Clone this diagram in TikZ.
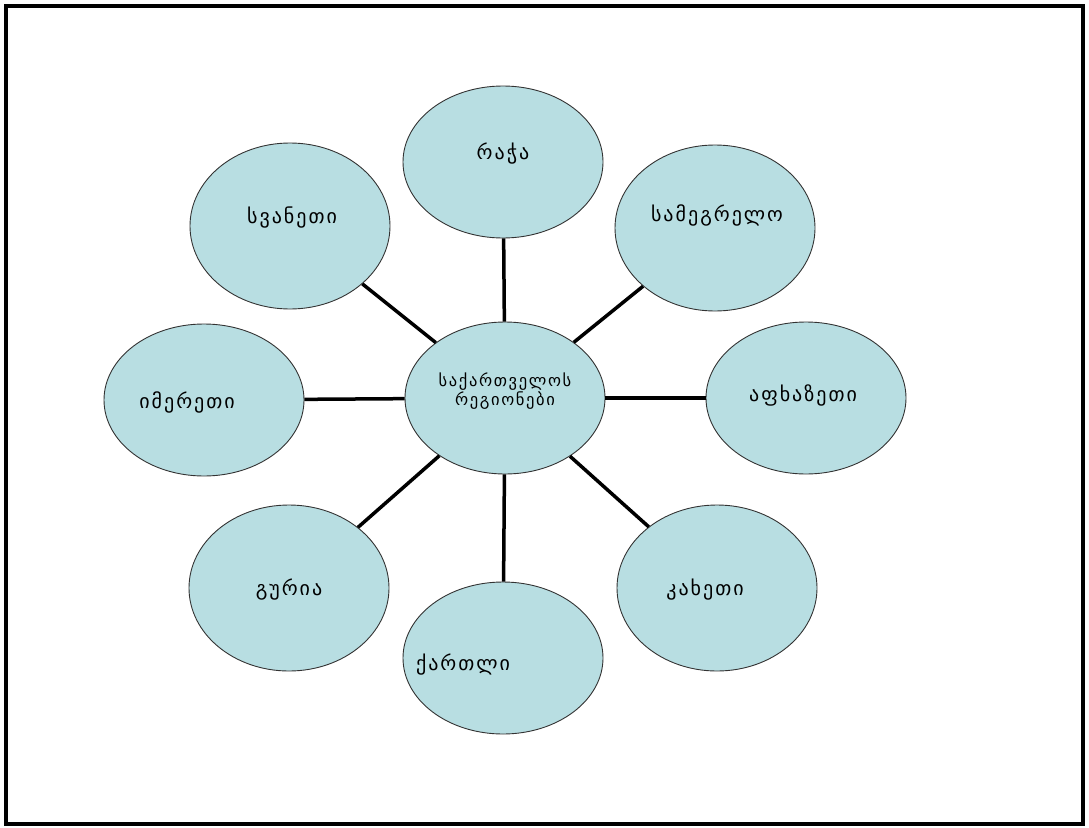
\documentclass[tikz,border=0pt]{standalone}
\usepackage{fontspec}
\newfontfamily\geofont[LetterSpace=10]{DejaVu Sans}
\usetikzlibrary{shapes.geometric}
\definecolor{regionblue}{HTML}{B8DEE2}
\tikzset{
  region/.style={ellipse, draw=black!80, line width=0.9pt, fill=regionblue, inner sep=0pt,
    minimum width=200pt, minimum height=152pt},
  sideregion/.style={region, minimum height=166pt},
  every label/.style={font=\geofont\fontsize{20}{24}\selectfont},
  spoke/.style={line width=3.5pt, black}
}
\begin{document}
\begin{tikzpicture}[x=1pt,y=-1pt]
\useasboundingbox (0,0) rectangle (1089,827);
\draw[line width=4.5pt] (6,6) rectangle (1083,824);

% centre and regions
\node[region, label={[yshift=7pt, align=center, font=\geofont\fontsize{16.5}{19}\selectfont]center:საქართველოს\\რეგიონები}] (centre) at (505,398) {};
\node[region, label={[yshift=8pt]center:რაჭა}] (racha) at (503,162) {};
\node[sideregion, label={[xshift=2pt,yshift=13pt]center:სამეგრელო}] (samegrelo) at (715,228) {};
\node[region, label={[xshift=-3pt,yshift=3pt]center:აფხაზეთი}] (apkhazeti) at (806,398) {};
\node[sideregion, label={[xshift=-12pt,yshift=-2pt]center:კახეთი}] (kakheti) at (717,588) {};
\node[region, label={[xshift=-40pt,yshift=-7pt]center:ქართლი}] (kartli) at (503,658) {};
\node[sideregion, label={[yshift=-2pt]center:გურია}] (guria) at (289,588) {};
\node[region, label={[xshift=-17pt,yshift=-2pt]center:იმერეთი}] (imereti) at (204,400) {};
\node[sideregion, label={[xshift=2pt,yshift=8pt]center:სვანეთი}] (svaneti) at (290,226) {};

\foreach \r in {racha,samegrelo,apkhazeti,kakheti,kartli,guria,imereti,svaneti}
  \draw[spoke] (centre) -- (\r);
\end{tikzpicture}
\end{document}
